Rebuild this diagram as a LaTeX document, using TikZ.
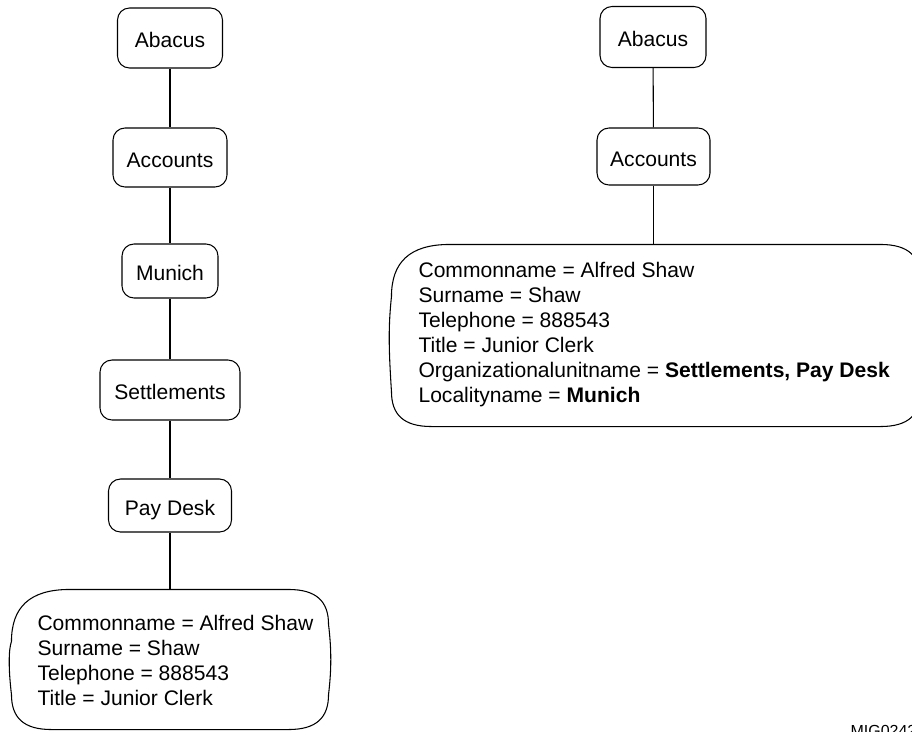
\documentclass[tikz,border=0pt]{standalone}
\usepackage{fontspec}
\setmainfont{Liberation Sans}
\usetikzlibrary{calc}
\newcommand\cloudoutline[1]{%
 \draw ($(#1.north west)+(0,52)$)
   .. controls ($(#1.north west)+(0,18)$) and ($(#1.north west)+(18,0)$) .. ($(#1.north west)+(58,0)$)
   -- ($(#1.north east)+(-40,0)$)
   .. controls ($(#1.north east)+(-12,0)$) and ($(#1.north east)+(0,12)$) .. ($(#1.north east)+(0,35)$)
   .. controls ($(#1.east)+(3,-10)$) and ($(#1.east)+(3,10)$) .. ($(#1.south east)+(0,-35)$)
   .. controls ($(#1.south east)+(0,-12)$) and ($(#1.south east)+(-12,0)$) .. ($(#1.south east)+(-40,0)$)
   -- ($(#1.south west)+(40,0)$)
   .. controls ($(#1.south west)+(12,0)$) and ($(#1.south west)+(0,-12)$) .. ($(#1.south west)+(0,-35)$)
   .. controls ($(#1.west)+(-3,10)$) and ($(#1.west)+(-3,-10)$) .. cycle;}
\begin{document}
\begin{tikzpicture}[x=0.75pt,y=-0.75pt,line width=0.8pt,
  box/.style={draw, rounded corners=9pt, inner sep=0pt,
    font=\fontsize{15.8pt}{17.4pt}\selectfont, text height=14.5pt, text depth=0pt},
  bigbox/.style={draw=none, inner sep=0pt},
  attr/.style={anchor=north west, inner sep=0pt, align=left,
    font=\fontsize{15.8pt}{18.75pt}\selectfont},
  link/.style={draw, line width=0.8pt},
  tag/.style={anchor=base west, inner sep=0pt, font=\fontsize{12pt}{14pt}\selectfont}]
\useasboundingbox (0,0) rectangle (912,731);
% left column
\node[box, minimum width=105*.75pt, minimum height=60*.75pt] (la) at (170,38) {Abacus};
\node[box, minimum width=114*.75pt, minimum height=59*.75pt] (lb) at (170,157.5) {Accounts};
\node[box, minimum width=96*.75pt, minimum height=54*.75pt] (lc) at (170,271) {Munich};
\node[box, minimum width=140*.75pt, minimum height=60*.75pt] (ld) at (170,390) {Settlements};
\node[box, minimum width=123*.75pt, minimum height=53*.75pt] (le) at (170,505.5) {Pay Desk};
\node[bigbox, minimum width=316*.75pt, minimum height=139*.75pt] (lf) at (170,659.5) {};
\cloudoutline{lf}
\node[attr] (lt) at (37,614.6) {Commonname = Alfred Shaw\\Surname = Shaw\\Telephone = 888543\\Title = Junior Clerk};
\path[link] (la) -- (lb);
\path[link] (lb) -- (lc);
\path[link] (lc) -- (ld);
\path[link] (ld) -- (le);
\path[link] (le) -- (lf);
% right column
\node[box, minimum width=106*.75pt, minimum height=61*.75pt] (ra) at (653,37) {Abacus};
\node[box, minimum width=113*.75pt, minimum height=57*.75pt] (rb) at (653.5,156.5) {Accounts};
\node[bigbox, minimum width=528*.75pt, minimum height=181*.75pt] (rf) at (656,335.5) {};
\cloudoutline{rf}
\node[attr] (rt) at (418,261.6) {Commonname = Alfred Shaw\\Surname = Shaw\\Telephone = 888543\\Title = Junior Clerk\\Organizationalunitname = \textbf{Settlements, Pay Desk}\\Localityname = \textbf{Munich}};
\path[link] (ra) -- (rb);
\path[link] (rb.south) -- (rf.north -| rb.south);
\node[tag] (mig) at (850,736.5) {MIG0242};
\end{tikzpicture}
\end{document}
